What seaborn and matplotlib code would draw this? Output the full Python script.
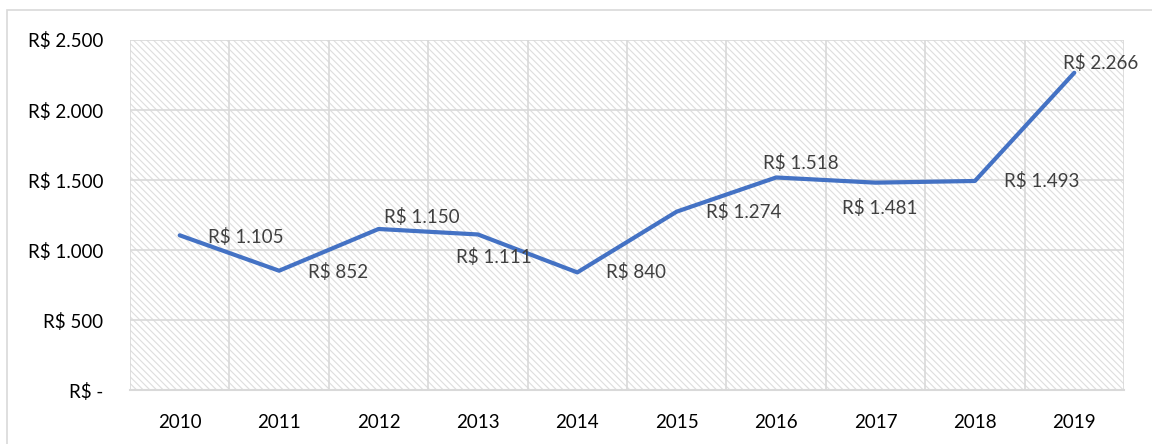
import matplotlib
matplotlib.use("Agg")
import matplotlib.pyplot as plt
import matplotlib.patches as mpatches
import seaborn as sns
import pandas as pd

# data
years = [2010, 2011, 2012, 2013, 2014, 2015, 2016, 2017, 2018, 2019]
values = [1105, 852, 1150, 1111, 840, 1274, 1518, 1481, 1493, 2266]
y_ticks = [0, 500, 1000, 1500, 2000, 2500]

# label offsets (pixels) for each data label
label_dx = [28, 29, 5, -22, 29, 29, -13, -34, 29, -11]
label_dy = [-2, -1, 12, -23, 0, 0, 14, -25, 0, 10]

df = pd.DataFrame({'Ano': years, 'Valor': values})

sns.set_style("white")
plt.rcParams['font.family'] = ['Lato', 'DejaVu Sans']
plt.rcParams['hatch.linewidth'] = 0.8
plt.rcParams['hatch.color'] = '#dedede'


def brl(v):
    if v == 0:
        return 'R$ -'
    return 'R$ ' + f'{v:,}'.replace(',', '.')


fig = plt.figure(figsize=(11.52, 4.44), dpi=100)
ax = fig.add_axes([130 / 1152, 54 / 444, 994 / 1152, 350 / 444])

# outer chart border
fig.patches.append(mpatches.Rectangle((7 / 1152, -0.1), 1.2, (434 + 44) / 444,
                                      transform=fig.transFigure, fill=False,
                                      edgecolor='#d9d9d9', lw=1.2))

# hatched plot area
ax.add_patch(mpatches.Rectangle((0, 0), 1, 1, transform=ax.transAxes, facecolor='white',
                                edgecolor='#dedede', hatch='\\\\\\\\\\', lw=0, zorder=0))

sns.lineplot(data=df, x='Ano', y='Valor', color='#4472C4', lw=3, ax=ax, zorder=3)

ax.set_xlim(years[0] - 0.5, years[-1] + 0.5)
ax.set_ylim(0, 2500)
ax.set_xticks(years)
ax.set_xticklabels([str(y) for y in years])
ax.set_xticks([y + 0.5 for y in [years[0] - 1] + years], minor=True)
ax.set_yticks(y_ticks)
ax.set_yticklabels([brl(v) for v in y_ticks])
ax.grid(which='minor', axis='x', color='#d9d9d9', lw=1.2)
ax.grid(which='major', axis='y', color='#d9d9d9', lw=1.2)
ax.set_axisbelow(True)
ax.tick_params(which='both', length=0, labelcolor='black')
ax.tick_params(axis='y', pad=19, labelsize=13.5)
ax.tick_params(axis='x', pad=17, labelsize=13.5)
ax.set_xlabel('')
ax.set_ylabel('')
for s in ['top', 'right', 'left']:
    ax.spines[s].set_visible(False)
ax.spines['bottom'].set_color('#d9d9d9')
ax.spines['bottom'].set_linewidth(1.5)

for x, v, dx, dy in zip(years, values, label_dx, label_dy):
    ax.annotate(brl(v), (x, v), xytext=(dx, dy), textcoords='offset pixels',
                ha='left', va='center', fontsize=13.5, color='#404040', zorder=4)

fig.savefig('out.png', dpi=100)
